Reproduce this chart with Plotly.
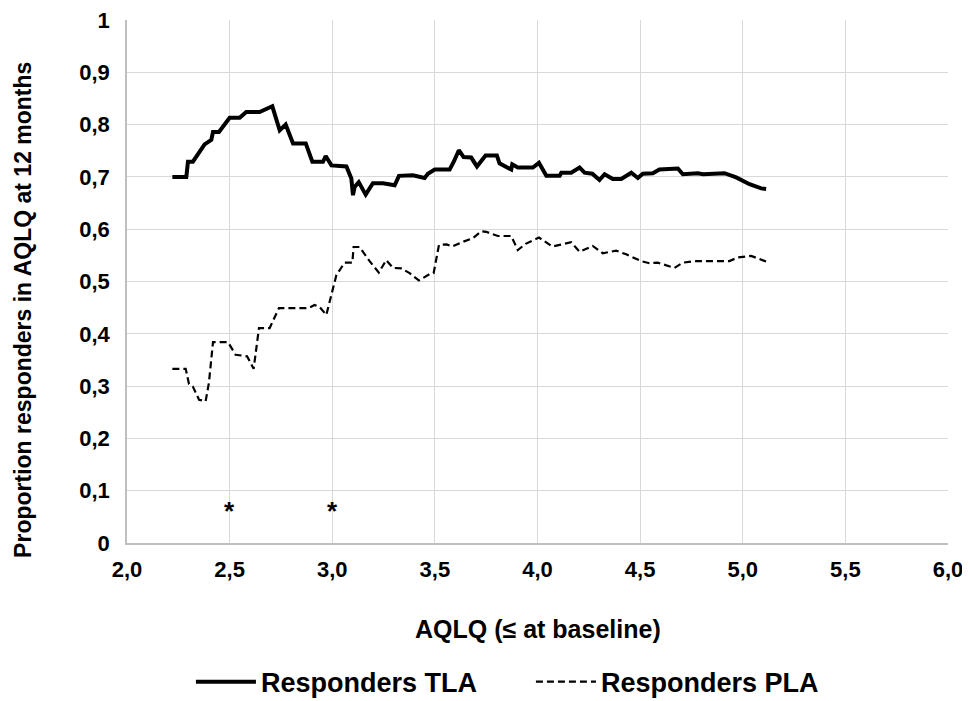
import plotly.graph_objects as go

# ---- data ----
tla_x = [2.221, 2.289, 2.297, 2.321, 2.378, 2.411, 2.419, 2.448, 2.500, 2.549,
         2.581, 2.646, 2.708, 2.744, 2.773, 2.809, 2.871, 2.903, 2.955, 2.968,
         2.996, 3.069, 3.093, 3.101, 3.109, 3.129, 3.163, 3.198, 3.247, 3.304,
         3.325, 3.393, 3.450, 3.466, 3.499, 3.572, 3.592, 3.617, 3.640, 3.677,
         3.705, 3.747, 3.802, 3.815, 3.872, 3.877, 3.904, 3.978, 4.007, 4.043,
         4.108, 4.116, 4.164, 4.205, 4.229, 4.267, 4.302, 4.327, 4.367, 4.408,
         4.457, 4.489, 4.513, 4.562, 4.594, 4.684, 4.708, 4.781, 4.806, 4.911,
         4.968, 5.033, 5.090, 5.114]
tla_y = [0.700, 0.700, 0.729, 0.729, 0.762, 0.771, 0.786, 0.786, 0.813, 0.813,
         0.824, 0.824, 0.835, 0.789, 0.800, 0.764, 0.764, 0.729, 0.729, 0.740,
         0.722, 0.720, 0.697, 0.665, 0.681, 0.690, 0.666, 0.688, 0.688, 0.684,
         0.702, 0.703, 0.698, 0.706, 0.714, 0.714, 0.729, 0.751, 0.738, 0.737,
         0.720, 0.741, 0.741, 0.726, 0.714, 0.724, 0.718, 0.718, 0.727, 0.702,
         0.702, 0.708, 0.708, 0.718, 0.708, 0.706, 0.694, 0.705, 0.696, 0.696,
         0.708, 0.698, 0.706, 0.707, 0.714, 0.716, 0.705, 0.707, 0.705, 0.707,
         0.699, 0.686, 0.678, 0.677]

pla_x = [2.221, 2.286, 2.302, 2.321, 2.351, 2.383, 2.399, 2.419, 2.492, 2.529,
         2.585, 2.617, 2.643, 2.695, 2.740, 2.882, 2.914, 2.939, 2.971, 3.020,
         3.060, 3.098, 3.104, 3.133, 3.182, 3.227, 3.263, 3.296, 3.336, 3.377,
         3.422, 3.474, 3.494, 3.520, 3.556, 3.585, 3.637, 3.686, 3.726, 3.750,
         3.807, 3.872, 3.904, 3.942, 4.007, 4.072, 4.108, 4.164, 4.205, 4.269,
         4.318, 4.383, 4.432, 4.505, 4.545, 4.586, 4.667, 4.708, 4.773, 4.935,
         4.976, 5.041, 5.114]
pla_y = [0.333, 0.333, 0.304, 0.299, 0.274, 0.271, 0.306, 0.384, 0.384, 0.360,
         0.357, 0.333, 0.411, 0.411, 0.449, 0.449, 0.455, 0.451, 0.436, 0.512,
         0.536, 0.536, 0.566, 0.566, 0.539, 0.517, 0.541, 0.526, 0.525, 0.516,
         0.502, 0.514, 0.516, 0.570, 0.571, 0.567, 0.576, 0.583, 0.596, 0.595,
         0.587, 0.587, 0.560, 0.572, 0.584, 0.567, 0.570, 0.575, 0.557, 0.568,
         0.554, 0.559, 0.552, 0.539, 0.535, 0.536, 0.526, 0.536, 0.539, 0.539,
         0.546, 0.549, 0.538]

star_x = [2.5, 3.0]
star_y = [0.07, 0.07]

x_tickvals = [2.0, 2.5, 3.0, 3.5, 4.0, 4.5, 5.0, 5.5, 6.0]
x_ticktext = ["2,0", "2,5", "3,0", "3,5", "4,0", "4,5", "5,0", "5,5", "6,0"]
y_tickvals = [0, 0.1, 0.2, 0.3, 0.4, 0.5, 0.6, 0.7, 0.8, 0.9, 1.0]
y_ticktext = ["0", "0,1", "0,2", "0,3", "0,4", "0,5", "0,6", "0,7", "0,8", "0,9", "1"]

x_title = "AQLQ (≤ at baseline)"
y_title = "Proportion responders in AQLQ at 12 months"

FONT = "Liberation Sans, Arial, sans-serif"

fig = go.Figure()
fig.add_trace(go.Scatter(x=tla_x, y=tla_y, mode="lines", name="Responders TLA",
                         line=dict(color="black", width=4)))
fig.add_trace(go.Scatter(x=pla_x, y=pla_y, mode="lines", name="Responders PLA",
                         line=dict(color="black", width=2.2, dash="7px,4px")))

for sx, sy in zip(star_x, star_y):
    fig.add_annotation(x=sx, y=sy, text="*", showarrow=False, yshift=-5,
                       font=dict(family=FONT, size=26, color="black", weight="bold"))

# axis titles
fig.add_annotation(xref="paper", yref="paper", x=0.5, y=-0.165, text=x_title,
                   showarrow=False, xanchor="center", yanchor="middle",
                   font=dict(family=FONT, size=25, color="black", weight="bold"))
fig.add_annotation(xref="paper", yref="paper", x=-0.1265, y=0.446, text=y_title,
                   showarrow=False, xanchor="center", yanchor="middle", textangle=-90,
                   font=dict(family=FONT, size=23, color="black", weight="bold"))

# page body has an 8px margin, so the figure is shifted by -8px to compensate
fig.update_layout(
    width=962, height=693,
    margin=dict(l=118.5, r=22, t=11.5, b=157.5, autoexpand=False),
    paper_bgcolor="white", plot_bgcolor="white",
    font=dict(family=FONT, color="black"),
    showlegend=True,
    legend=dict(orientation="h", x=0.492, y=-0.266, xanchor="center", yanchor="middle",
                font=dict(family=FONT, size=27, color="black", weight="bold"),
                itemwidth=60, entrywidth=265, traceorder="normal",
                bgcolor="rgba(0,0,0,0)"),
)
fig.update_xaxes(
    range=[2.0, 6.0], tickvals=x_tickvals, ticktext=x_ticktext,
    showgrid=True, gridcolor="#d9d9d9", gridwidth=1.3,
    showline=True, linecolor="#bfbfbf", linewidth=1.5,
    ticks="", zeroline=False, automargin=False, ticklabelstandoff=6,
    ticklabeloverflow="allow",
    tickfont=dict(family=FONT, size=22, color="black", weight="bold"),
)
fig.update_yaxes(
    range=[0, 1.0], tickvals=y_tickvals, ticktext=y_ticktext,
    showgrid=True, gridcolor="#d9d9d9", gridwidth=1.3,
    showline=True, linecolor="#bfbfbf", linewidth=1.5,
    ticks="", zeroline=False, automargin=False, ticklabelstandoff=11,
    ticklabeloverflow="allow",
    tickfont=dict(family=FONT, size=22, color="black", weight="bold"),
)

fig.write_html("out.html")
